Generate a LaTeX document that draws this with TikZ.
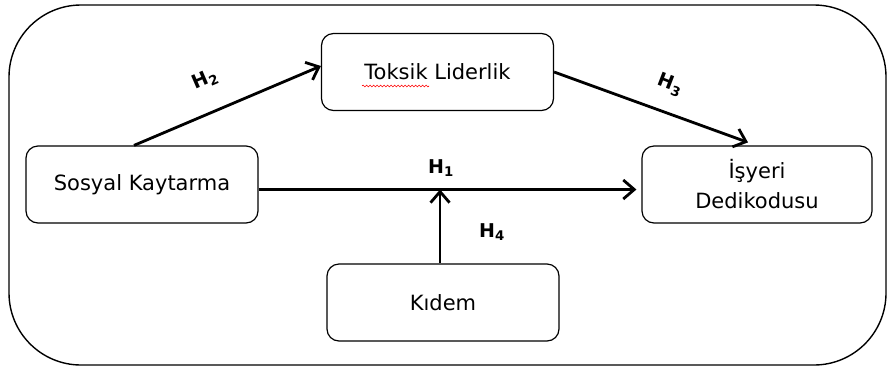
\documentclass[tikz,border=0pt]{standalone}
\usepackage{fontspec}
\setmainfont{DejaVu Sans}
\usetikzlibrary{arrows.meta, decorations.pathmorphing}
\newcommand{\Hyp}[1]{\textbf{H\textsubscript{#1}}}
\tikzset{
  var/.style={draw, rounded corners=12pt, line width=1.2pt, minimum width=232pt,
    minimum height=77pt, align=center, font=\fontsize{21}{30}\selectfont},
  arr/.style={line width=2.8pt, -{Straight Barb[length=11pt, width=19pt]}},
  hyp/.style={font=\fontsize{19}{20}\selectfont, inner sep=0pt},
}

\begin{document}
\begin{tikzpicture}[x=1pt, y=-1pt]
\useasboundingbox (0,0) rectangle (888,368);
\draw[line width=1.4pt, rounded corners=72pt] (9,5) rectangle (886,365);

\node[var] (tox) at (437.5,72) {Toksik Liderlik};
\node[var] (sos) at (142,184.5) {Sosyal Kaytarma};
\node[var, minimum width=230pt] (isy) at (757,184.5) {İşyeri\\Dedikodusu};
\node[var] (kid) at (443,302.5) {Kıdem};
\draw[red, line width=0.6pt, decorate,
  decoration={snake, amplitude=0.9pt, segment length=3.5pt}] (362,86) -- (429,86);

\draw[arr] ([xshift=-8pt]sos.north) -- ([yshift=6pt]tox.west);
\draw[arr] (tox.east) -- ([xshift=-9pt, yshift=3pt]isy.north);
\draw[arr, shorten >=5pt] ([yshift=-5pt]sos.east) -- coordinate[pos=0.474] (mid) ([yshift=-5pt]isy.west);
\draw[arr] (kid.north -| mid) -- (mid);

\node[hyp, rotate=23.5] (h2) at (205,80) {\Hyp{2}};
\node[hyp, rotate=-21] (h3) at (670,85) {\Hyp{3}};
\node[hyp] (h1) at (441,168) {\Hyp{1}};
\node[hyp] (h4) at (492,232) {\Hyp{4}};
\end{tikzpicture}
\end{document}
